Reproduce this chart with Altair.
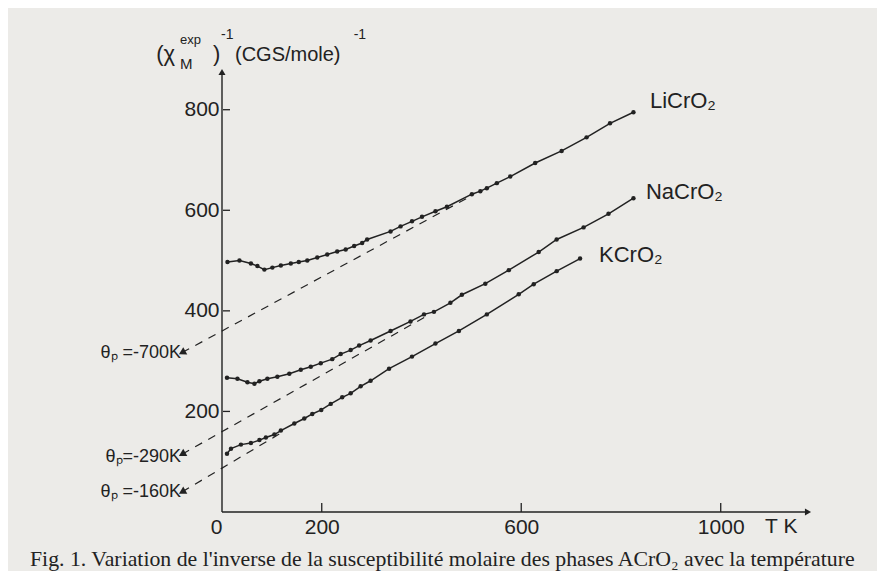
import altair as alt
import pandas as pd

# ---- data ----
li_T = [11, 35, 58, 71, 85, 101, 118, 138, 154, 171, 191, 211, 231, 248, 265, 281, 291,
        338, 358, 381, 401, 428, 451, 501, 518, 531, 551, 578, 628, 681, 731, 778, 825]
li_y = [497, 500, 494, 489, 482, 486, 490, 494, 497, 500, 506, 512, 518, 522, 529, 535, 542,
        558, 568, 578, 587, 598, 607, 632, 638, 644, 654, 667, 694, 718, 745, 773, 795]

na_T = [10, 31, 51, 65, 75, 91, 111, 135, 158, 178, 198, 221, 238, 258, 275, 298, 338, 378,
        405, 425, 458, 481, 528, 575, 635, 671, 725, 775, 825]
na_y = [267, 265, 258, 255, 260, 265, 269, 275, 283, 289, 296, 304, 314, 322, 331, 341, 360, 379,
        393, 398, 416, 432, 454, 481, 517, 542, 566, 593, 624]

k_T = [10, 18, 38, 58, 75, 88, 105, 118, 145, 165, 181, 199, 218, 241, 258, 278, 298, 335,
       381, 428, 475, 531, 595, 625, 671, 718]
k_y = [116, 126, 134, 137, 143, 148, 154, 162, 176, 186, 195, 203, 215, 228, 236, 250, 261, 285,
       309, 335, 360, 393, 433, 453, 479, 504]

# Curie-Weiss extrapolations (dashed), start / end points
dash_names = ["LiCrO2", "NaCrO2", "KCrO2"]
dash_T0 = [-80, -80, -80]
dash_y0 = [317, 115, 40]
dash_T1 = [495, 411, 125]
dash_y1 = [626, 390, 161]
theta_labels = ["θₚ =-700K", "θₚ=-290K", "θₚ =-160K"]
theta_label_T = [-82, -82, -82]
theta_label_y = [306, 99, 30]

compound_labels = ["LiCrO₂", "NaCrO₂", "KCrO₂"]
compound_label_T = [858, 850, 756]
compound_label_y = [803, 622, 497]

x_tick_labels = [0, 200, 600, 1000]
x_tick_marks = [200, 600, 1000]
y_tick_labels = [200, 400, 600, 800]
x_max = 1175
y_max = 875

caption = "Fig. 1. Variation de l'inverse de la susceptibilité molaire des phases ACrO₂ avec la température"

INK = "#222222"
BG = "#ecebe8"
SANS = "Liberation Sans"
SERIF = "Liberation Serif"

# ---- tables ----
curves = pd.concat([
    pd.DataFrame({"T": li_T, "y": li_y, "c": "LiCrO2"}),
    pd.DataFrame({"T": na_T, "y": na_y, "c": "NaCrO2"}),
    pd.DataFrame({"T": k_T, "y": k_y, "c": "KCrO2"}),
])
dashes = pd.DataFrame({
    "T": dash_T0 + dash_T1,
    "y": dash_y0 + dash_y1,
    "c": dash_names + dash_names,
})
arrows = pd.DataFrame({"T": dash_T0, "y": dash_y0})
theta_df = pd.DataFrame({"T": theta_label_T, "y": theta_label_y, "t": theta_labels})
comp_df = pd.DataFrame({"T": compound_label_T, "y": compound_label_y, "t": compound_labels})
axes_df = pd.DataFrame({"T": [0, 0], "y": [0, y_max], "T2": [x_max, 0], "y2": [0, 0]})
xt_df = pd.DataFrame({"T": x_tick_marks})
yt_df = pd.DataFrame({"y": y_tick_labels})

xs = alt.Scale(domain=[0, x_max], nice=False, zero=False)
ys = alt.Scale(domain=[0, y_max], nice=False, zero=False)
xaxis = alt.Axis(values=x_tick_labels, ticks=False, domain=False, grid=False, title=None,
                 format="d",
                 labelFontSize=21, labelFont=SANS, labelColor=INK, labelPadding=4,
                 labelFlush=False, labelOverlap=False,
                 labelAlign={"expr": "datum.value == 0 ? 'right' : 'center'"})
yaxis = alt.Axis(values=y_tick_labels, ticks=False, domain=False, grid=False, title=None,
                 format="d",
                 labelFontSize=21, labelFont=SANS, labelColor=INK, labelPadding=3,
                 labelFlush=False, labelOverlap=False)
X = alt.X("T:Q", scale=xs, axis=xaxis)
Y = alt.Y("y:Q", scale=ys, axis=yaxis)

base_axes = alt.Chart(axes_df).mark_rule(color=INK, strokeWidth=1.4).encode(
    x=X, y=Y, x2="T2:Q", y2="y2:Q")
axis_arrows = alt.Chart(pd.DataFrame({"T": [0, x_max], "y": [y_max, 0], "s": ["triangle-up", "triangle-right"]})
                        ).mark_point(filled=True, color=INK, size=50, opacity=1).encode(
    x=X, y=Y, shape=alt.Shape("s:N", scale=None))
xticks = alt.Chart(xt_df).mark_rule(color=INK, strokeWidth=1.3).encode(
    x=X, y=alt.value(440), y2=alt.value(431))
yticks = alt.Chart(yt_df).mark_rule(color=INK, strokeWidth=1.3).encode(
    y=Y, x=alt.value(1), x2=alt.value(8))

dash_layer = alt.Chart(dashes).mark_line(color=INK, strokeWidth=1.2, strokeDash=[8, 7]).encode(
    x=X, y=Y, detail="c:N")
arrow_layer = alt.Chart(arrows).mark_point(shape="triangle-left", filled=True, color=INK,
                                           size=70, angle=331, opacity=1).encode(x=X, y=Y)
line_layer = alt.Chart(curves).mark_line(color=INK, strokeWidth=1.5).encode(
    x=X, y=Y, detail="c:N")
pt_layer = alt.Chart(curves).mark_circle(color=INK, size=20, opacity=1).encode(x=X, y=Y)

theta_text = alt.Chart(theta_df).mark_text(align="right", baseline="alphabetic", font=SANS,
                                           fontSize=18, color=INK).encode(x=X, y=Y, text="t:N")
comp_text = alt.Chart(comp_df).mark_text(align="left", baseline="alphabetic", font=SANS,
                                         fontSize=22, color=INK).encode(x=X, y=Y, text="t:N")

# y-axis title pieces (text, T, y, size)
title_txt = ["(χ", "M", "exp", ")", "-1", "(CGS/mole)", "-1"]
title_T = [-132, -84, -84, -18, -2, 26, 264]
title_y = [896, 880, 930, 896, 940, 896, 940]
title_sz = [22, 15, 13, 22, 14, 20, 14]
title_df = pd.DataFrame({"T": title_T, "y": title_y, "t": title_txt, "s": title_sz})
title_text = alt.Chart(title_df).mark_text(align="left", baseline="alphabetic", font=SANS,
                                           color=INK).encode(
    x=X, y=Y, text="t:N", size=alt.Size("s:Q", scale=None, legend=None))

tk_df = pd.DataFrame({"T": [1089], "y": [-42], "t": ["T  K"]})
tk_text = alt.Chart(tk_df).mark_text(align="left", baseline="alphabetic", font=SANS,
                                     fontSize=21, color=INK).encode(x=X, y=Y, text="t:N")

cap_df = pd.DataFrame({"T": [-385], "y": [-107], "t": [caption]})
cap_text = alt.Chart(cap_df).mark_text(align="left", baseline="alphabetic", font=SERIF,
                                       fontSize=21.8, color=INK).encode(x=X, y=Y, text="t:N")

chart = alt.layer(
    base_axes, axis_arrows, xticks, yticks, dash_layer, arrow_layer, line_layer, pt_layer,
    theta_text, comp_text, title_text, tk_text, cap_text
).properties(
    width=586, height=440, autosize="none",
    padding={"left": 214, "top": 64, "right": 69, "bottom": 59},
    background=BG,
).configure_view(stroke=None)

chart.save("out.html", embed_options={"renderer": "svg", "actions": False})
